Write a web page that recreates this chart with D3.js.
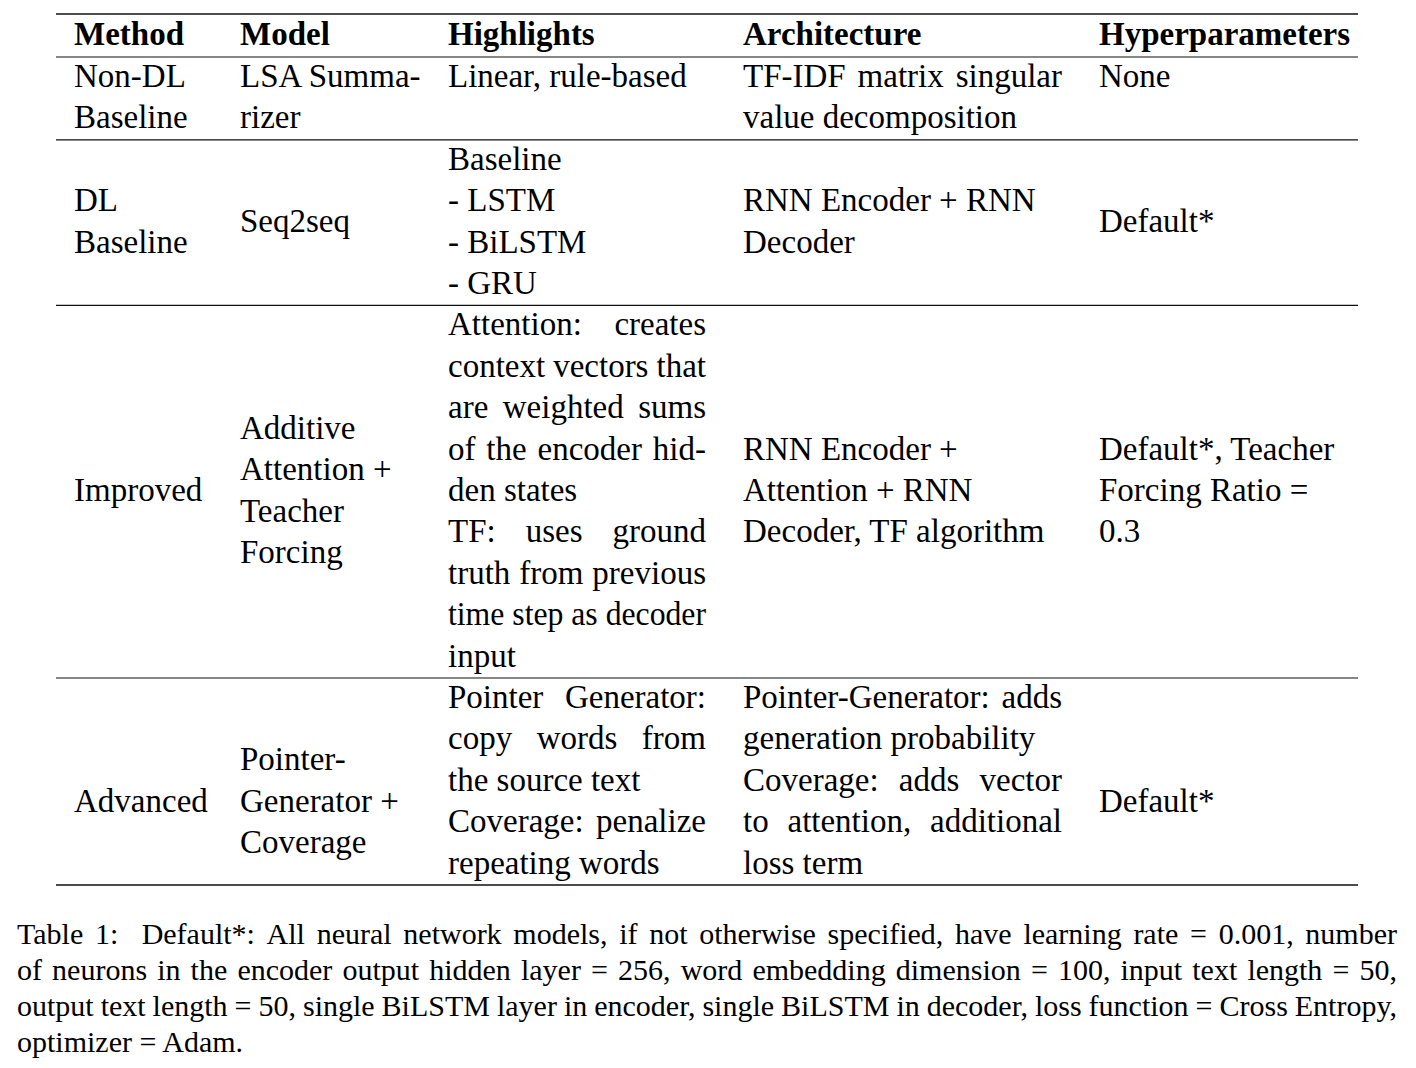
<!DOCTYPE html>
<html>
<head>
<meta charset="utf-8">
<script src="https://cdn.jsdelivr.net/npm/d3@7"></script>
<style>
  body { margin: 0; background: #fff; }
  svg { display: block; }
  text { font-family: 'Liberation Serif', 'Times New Roman', serif; fill: #000; }
</style>
</head>
<body>
<svg width="1416" height="1068"></svg>
<script>
const width = 1416, height = 1068;

// Table content: each cell is a list of paragraphs, each paragraph a list of lines
const columns = ['Method', 'Model', 'Highlights', 'Architecture', 'Hyperparameters'];

const methods = [
    [['Non-DL', 'Baseline']],
    [['DL', 'Baseline']],
    [['Improved']],
    [['Advanced']]
];

const models = [
    [['LSA Summa-', 'rizer']],
    [['Seq2seq']],
    [['Additive', 'Attention +', 'Teacher', 'Forcing']],
    [['Pointer-', 'Generator +', 'Coverage']]
];

const highlights = [
    [['Linear, rule-based']],
    [['Baseline'], ['- LSTM'], ['- BiLSTM'], ['- GRU']],
    [['Attention: creates', 'context vectors that', 'are weighted sums', 'of the encoder hid-', 'den states'],
     ['TF: uses ground', 'truth from previous', 'time step as decoder', 'input']],
    [['Pointer Generator:', 'copy words from', 'the source text'],
     ['Coverage: penalize', 'repeating words']]
];

const architectures = [
    [['TF-IDF matrix singular', 'value decomposition']],
    [['RNN Encoder + RNN'], ['Decoder']],
    [['RNN Encoder +'], ['Attention + RNN'], ['Decoder, TF algorithm']],
    [['Pointer-Generator: adds', 'generation probability'],
     ['Coverage: adds vector', 'to attention, additional', 'loss term']]
];

const hyperparameters = [
    [['None']],
    [['Default*']],
    [['Default*, Teacher', 'Forcing Ratio =', '0.3']],
    [['Default*']]
];

// multirow span used to centre the shorter cells of each row (0 = top aligned)
const rowSpans = [0, 4, 9, 6];

const caption = [
    'Table 1:  Default*: All neural network models, if not otherwise specified, have learning rate = 0.001, number',
    'of neurons in the encoder output hidden layer = 256, word embedding dimension = 100, input text length = 50,',
    'output text length = 50, single BiLSTM layer in encoder, single BiLSTM in decoder, loss function = Cross Entropy,',
    'optimizer = Adam.'
];

// Layout
const fs = 33, lineH = 41.4, capFs = 30, capLineH = 36.3;
const tableLeft = 56, tableRight = 1358;
const topRule = 14, headRule = 57, headBase = 45, firstBase = 30;

const x = d3.scaleOrdinal()
    .domain(columns)
    .range([74, 240, 448, 743, 1099]);

const colRight = { Highlights: 706, Architecture: 1062 };
const justified = { Highlights: true, Architecture: true };

const cellData = [methods, models, highlights, architectures, hyperparameters];
const rows = methods.map((_, r) => columns.map((c, ci) => cellData[ci][r]));
const rowLines = rows.map(cells => d3.max(cells, c => d3.sum(c, p => p.length)));
const rowStart = Array.from(d3.cumsum([0].concat(rowLines)));

// cumulative line index -> y
const y = d3.scaleLinear().domain([0, 1]).range([headRule, headRule + lineH]);

const svg = d3.select('svg');
svg.append('rect').attr('width', width).attr('height', height).attr('fill', '#fff');

// hidden text for measuring words
const measurer = svg.append('text').attr('visibility', 'hidden');
function measure(str, size, weight) {
    measurer.style('font-size', size + 'px').style('font-weight', weight || 'normal').text(str);
    return measurer.node().getComputedTextLength();
}

// Draw a line of text; when justify is set, stretch word gaps to reach x1
function drawLine(g, str, x0, x1, base, size, justify) {
    const t = g.append('text')
        .attr('y', base)
        .style('font-size', size + 'px')
        .style('white-space', 'pre');
    if (!justify) {
        t.attr('x', x0).text(str);
        return;
    }
    const words = str.split(' ');
    const widths = words.map(w => measure(w, size));
    const gaps = words.length - 1;
    const gap = gaps > 0 ? (x1 - x0 - d3.sum(widths)) / gaps : 0;
    if (gaps === 0 || gap < 0.17 * size) {
        t.attr('x', x0)
            .attr('textLength', x1 - x0)
            .attr('lengthAdjust', 'spacingAndGlyphs')
            .text(str);
        return;
    }
    let cx = x0;
    words.forEach((w, i) => {
        t.append('tspan').attr('x', cx).text(w);
        cx += widths[i] + gap;
    });
}

// Rules
const rules = [
    { y: topRule, w: 1.5 },
    { y: headRule, w: 1.2 }
].concat(rowStart.slice(1).map((v, i) => ({ y: y(v), w: i === rows.length - 1 ? 1.5 : 1.2 })));

svg.selectAll('line.rule')
    .data(rules)
    .enter()
    .append('line')
    .attr('class', 'rule')
    .attr('x1', tableLeft)
    .attr('x2', tableRight)
    .attr('y1', d => d.y)
    .attr('y2', d => d.y)
    .attr('stroke', '#111')
    .attr('stroke-width', d => d.w);

// Header
svg.selectAll('text.head')
    .data(columns)
    .enter()
    .append('text')
    .attr('class', 'head')
    .attr('x', d => x(d))
    .attr('y', headBase)
    .style('font-size', fs + 'px')
    .style('font-weight', 'bold')
    .text(d => d);

// Body
const body = svg.append('g');
rows.forEach((cells, r) => {
    const n = rowLines[r];
    const top = y(rowStart[r]);
    cells.forEach((paras, ci) => {
        const col = columns[ci];
        const k = d3.sum(paras, p => p.length);
        const off = (rowSpans[r] && k < n) ? Math.max(0, (rowSpans[r] - k) / 2) : 0;
        let j = 0;
        paras.forEach(p => {
            p.forEach((line, li) => {
                const base = top + firstBase + (off + j) * lineH;
                const just = justified[col] && li < p.length - 1;
                drawLine(body, line, x(col), colRight[col], base, fs, just);
                j++;
            });
        });
    });
});

// Caption
const cap = svg.append('g');
caption.forEach((line, i) => {
    drawLine(cap, line, 17, 1397, 943.5 + i * capLineH, capFs, i < caption.length - 1);
});

measurer.remove();
</script>
</body>
</html>
